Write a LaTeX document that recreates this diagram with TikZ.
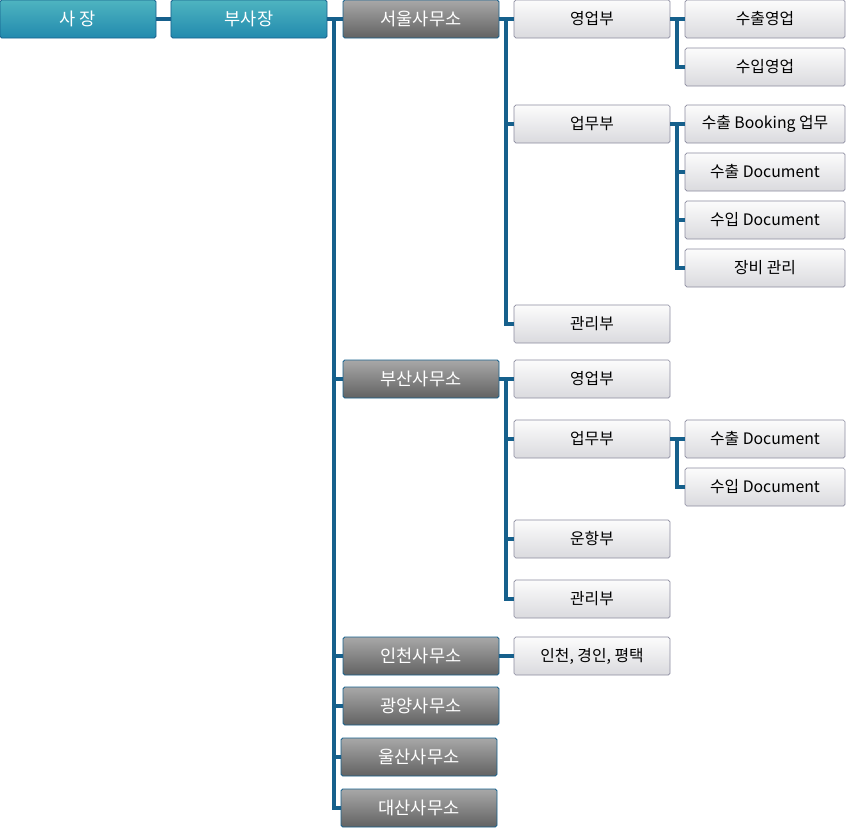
\documentclass[tikz,border=0pt]{standalone}
\usepackage{fontspec}
\setmainfont{Noto Sans CJK KR}
\definecolor{linkblue}{RGB}{22,96,140}
\definecolor{tealtop}{RGB}{78,180,192}
\definecolor{tealbot}{RGB}{34,138,174}
\definecolor{graytop}{RGB}{168,168,168}
\definecolor{graybot}{RGB}{98,98,98}
\definecolor{lighttop}{RGB}{252,252,252}
\definecolor{lightbot}{RGB}{218,218,222}
\definecolor{lightedge}{RGB}{140,140,160}
\tikzset{
  boxbase/.style={rounded corners=1.5pt, minimum width=4.68cm, minimum height=1.14cm, inner sep=0pt},
  topbox/.style={boxbase, draw=linkblue, line width=0.8pt, top color=tealtop, bottom color=tealbot, text=white, font=\fontsize{15}{17}\selectfont},
  officebox/.style={boxbase, draw=linkblue, line width=0.8pt, top color=graytop, bottom color=graybot, text=white, font=\fontsize{15}{17}\selectfont},
  deptbox/.style={boxbase, draw=lightedge, line width=0.6pt, top color=lighttop, bottom color=lightbot, text=black, font=\fontsize{13.5}{15}\selectfont},
  teambox/.style={deptbox, minimum width=4.8cm},
  link/.style={draw=linkblue, line width=2.6pt}
}
\begin{document}
\begin{tikzpicture}[x=0.03cm, y=-0.03cm]
  \useasboundingbox (0,0) rectangle (846,830);

  % Top
  \node[topbox] (ceo) at (78,19) {사 장};
  \node[topbox] (vp) at (249,19) {부사장};

  % Offices
  \node[officebox] (seoul) at (421,19) {서울사무소};
  \node[officebox] (busan) at (421,379) {부산사무소};
  \node[officebox] (incheon) at (421,656) {인천사무소};
  \node[officebox] (gwangyang) at (421,706) {광양사무소};
  \node[officebox] (ulsan) at (419,757) {울산사무소};
  \node[officebox] (daesan) at (419,808) {대산사무소};

  % Seoul departments
  \node[deptbox] (sSales) at (592,19) {영업부};
  \node[deptbox] (sWork) at (592,124) {업무부};
  \node[deptbox] (sAdmin) at (592,324) {관리부};
  \node[teambox] (sExpSales) at (765,19) {수출영업};
  \node[teambox] (sImpSales) at (765,67) {수입영업};
  \node[teambox] (sBooking) at (765,124) {수출 Booking 업무};
  \node[teambox] (sExpDoc) at (765,172) {수출 Document};
  \node[teambox] (sImpDoc) at (765,220) {수입 Document};
  \node[teambox] (sEquip) at (765,268) {장비 관리};

  % Busan departments
  \node[deptbox] (bSales) at (592,379) {영업부};
  \node[deptbox] (bWork) at (592,439) {업무부};
  \node[deptbox] (bShip) at (592,539) {운항부};
  \node[deptbox] (bAdmin) at (592,599) {관리부};
  \node[teambox] (bExpDoc) at (765,439) {수출 Document};
  \node[teambox] (bImpDoc) at (765,487) {수입 Document};

  % Incheon
  \node[deptbox] (iArea) at (592,656) {인천, 경인, 평택};

  % Links
  \draw[link] (ceo) -- (vp);
  \coordinate (trunk) at (334,19);
  \draw[link] (vp.east) -- (trunk) |- (daesan.west);
  \foreach \o in {seoul,busan,incheon,gwangyang,ulsan}
    \draw[link] (trunk |- \o) -- (\o.west);

  \coordinate (sTrunk) at (506,19);
  \draw[link] (seoul.east) -- (sTrunk) |- (sAdmin.west);
  \foreach \d in {sSales,sWork}
    \draw[link] (sTrunk |- \d) -- (\d.west);

  \coordinate (ssTrunk) at (677,19);
  \draw[link] (sSales.east) -- (ssTrunk) |- (sImpSales.west);
  \draw[link] (ssTrunk) -- (sExpSales.west);

  \coordinate (swTrunk) at (677,124);
  \draw[link] (sWork.east) -- (swTrunk) |- (sEquip.west);
  \foreach \t in {sBooking,sExpDoc,sImpDoc}
    \draw[link] (swTrunk |- \t) -- (\t.west);

  \coordinate (bTrunk) at (506,379);
  \draw[link] (busan.east) -- (bTrunk) |- (bAdmin.west);
  \foreach \d in {bSales,bWork,bShip}
    \draw[link] (bTrunk |- \d) -- (\d.west);

  \coordinate (bwTrunk) at (677,439);
  \draw[link] (bWork.east) -- (bwTrunk) |- (bImpDoc.west);
  \draw[link] (bwTrunk) -- (bExpDoc.west);

  \draw[link] (incheon) -- (iArea);
\end{tikzpicture}
\end{document}
